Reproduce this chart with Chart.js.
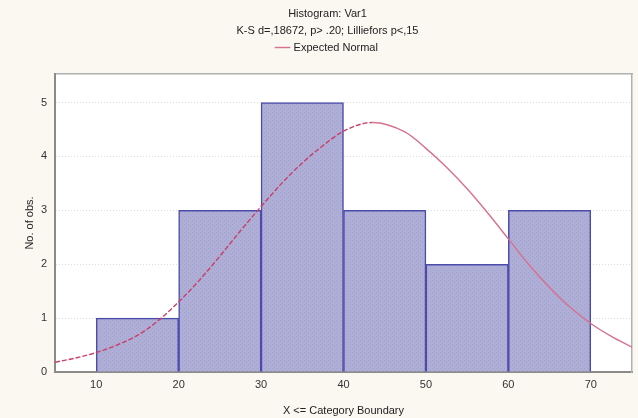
<!DOCTYPE html>
<html>
<head>
<meta charset="utf-8">
<script src="https://cdn.jsdelivr.net/npm/chart.js@4/dist/chart.umd.min.js"></script>
<style>
  html, body { margin: 0; padding: 0; background: #fbf8f1; }
  #wrap { width: 638px; height: 418px; position: relative; }
</style>
</head>
<body>
<div id="wrap"><canvas id="chart-hist"></canvas></div>
<script>
// histogram: bin boundaries and counts
const binStarts = [10, 20, 30, 40, 50, 60];
const binEnds   = [20, 30, 40, 50, 60, 70];
const counts    = [1, 3, 5, 3, 2, 3];

// expected normal curve
const curveX = [5, 7.5, 10, 12.5, 15, 17.5, 20, 22.5, 25, 27.5, 30, 32.5, 35, 37.5, 40,
                43.5, 47.5, 50, 52.5, 55, 57.5, 60, 62.5, 65, 67.5, 70, 72.5, 75];
const curveY = [0.18, 0.26, 0.36, 0.5, 0.68, 0.95, 1.3, 1.7, 2.15, 2.62, 3.07, 3.5, 3.88, 4.2, 4.47,
                4.63, 4.45, 4.15, 3.8, 3.4, 2.95, 2.47, 1.99, 1.57, 1.2, 0.9, 0.66, 0.46];

const xTicks = [10, 20, 30, 40, 50, 60, 70];
const yTicks = [0, 1, 2, 3, 4, 5];

const FONT = 'Liberation Sans, Arial, sans-serif';

// hatched lavender fill like the original
function hatch() {
  const c = document.createElement('canvas');
  c.width = 4; c.height = 4;
  const g = c.getContext('2d');
  g.fillStyle = '#aeaed6';
  g.fillRect(0, 0, 4, 4);
  g.fillStyle = '#a0a0cc';
  g.fillRect(0, 0, 1, 1);
  g.fillRect(2, 2, 1, 1);
  return g.createPattern(c, 'repeat');
}

const bgPlugin = {
  id: 'bg',
  beforeDraw(chart) {
    const { ctx, chartArea: a } = chart;
    ctx.save();
    ctx.fillStyle = '#fbf8f1';
    ctx.fillRect(0, 0, chart.width, chart.height);
    ctx.fillStyle = '#ffffff';
    ctx.fillRect(a.left, a.top, a.right - a.left, a.bottom - a.top);
    ctx.restore();
  }
};

const canvas = document.getElementById('chart-hist');
new Chart(canvas, {
  type: 'bar',
  data: {
    datasets: [
      {
        type: 'line',
        label: 'Expected Normal',
        data: curveX.map((x, i) => ({ x, y: curveY[i] })),
        borderColor: '#d8708e',
        borderWidth: 1.4,
        pointRadius: 0,
        cubicInterpolationMode: 'monotone',
        // left half of the curve looks dashed and darker in the original
        segment: {
          borderDash: ctx => ctx.p0.parsed.x < 43 ? [5, 2] : undefined,
          borderColor: ctx => ctx.p0.parsed.x < 43 ? '#c8406a' : undefined
        },
        order: 0
      },
      {
        type: 'bar',
        label: 'Var1',
        data: binStarts.map((s, i) => ({ x: (s + binEnds[i]) / 2, y: counts[i] })),
        backgroundColor: hatch(),
        borderColor: '#4b4baa',
        borderWidth: 1.5,
        barPercentage: 1,
        categoryPercentage: 1,
        order: 1
      }
    ]
  },
  options: {
    responsive: true,
    maintainAspectRatio: false,
    animation: false,
    layout: { padding: { left: 23, right: 6, top: 0, bottom: 0 } },
    plugins: {
      title: {
        display: true,
        text: ['Histogram: Var1', 'K-S d=,18672, p> .20; Lilliefors p<,15'],
        color: '#222',
        font: { family: FONT, size: 11, weight: 'normal', lineHeight: '17px' },
        padding: { top: 5, bottom: 0 }
      },
      legend: {
        display: true,
        labels: {
          filter: item => item.text === 'Expected Normal',
          usePointStyle: true,
          pointStyle: 'line',
          color: '#222',
          font: { family: FONT, size: 11 },
          padding: 3
        }
      },
      tooltip: { enabled: false }
    },
    scales: {
      x: {
        type: 'linear',
        offset: false,
        min: 5,
        max: 75,
        afterBuildTicks: s => { s.ticks = xTicks.map(v => ({ value: v })); },
        afterFit: s => { s.height = 46; },
        grid: { display: false, drawTicks: false },
        border: { color: '#8a8a8a', width: 2 },
        ticks: { color: '#333', font: { family: FONT, size: 11 }, padding: 6 },
        title: {
          display: true,
          text: 'X <= Category Boundary',
          color: '#222',
          font: { family: FONT, size: 11 },
          padding: { top: 0, bottom: 0 }
        }
      },
      xTop: {
        type: 'linear',
        position: 'top',
        offset: false,
        min: 5,
        max: 75,
        afterFit: s => { s.height = 11; },
        grid: { display: false, drawTicks: false },
        border: { color: '#b0b0b0', width: 1.5 },
        ticks: { display: false }
      },
      y: {
        min: 0,
        max: 5.53,
        afterBuildTicks: s => { s.ticks = yTicks.map(v => ({ value: v })); },
        afterFit: s => { s.width = 32; },
        grid: {
          drawTicks: false,
          color: ctx => ctx.tick && ctx.tick.value === 0 ? 'rgba(0,0,0,0)' : '#dcdcdc'
        },
        border: { color: '#8a8a8a', width: 2, dash: [1, 2] },
        ticks: { color: '#333', font: { family: FONT, size: 11 }, padding: 8 },
        title: {
          display: true,
          text: 'No. of obs.',
          color: '#222',
          font: { family: FONT, size: 11 },
          padding: { top: 0, bottom: 0 }
        }
      },
      yRight: {
        position: 'right',
        min: 0,
        max: 5.53,
        afterFit: s => { s.width = 0; },
        grid: { display: false, drawTicks: false },
        border: { color: '#b0b0b0', width: 1.5 },
        ticks: { display: false }
      }
    }
  },
  plugins: [bgPlugin]
});
</script>
</body>
</html>
